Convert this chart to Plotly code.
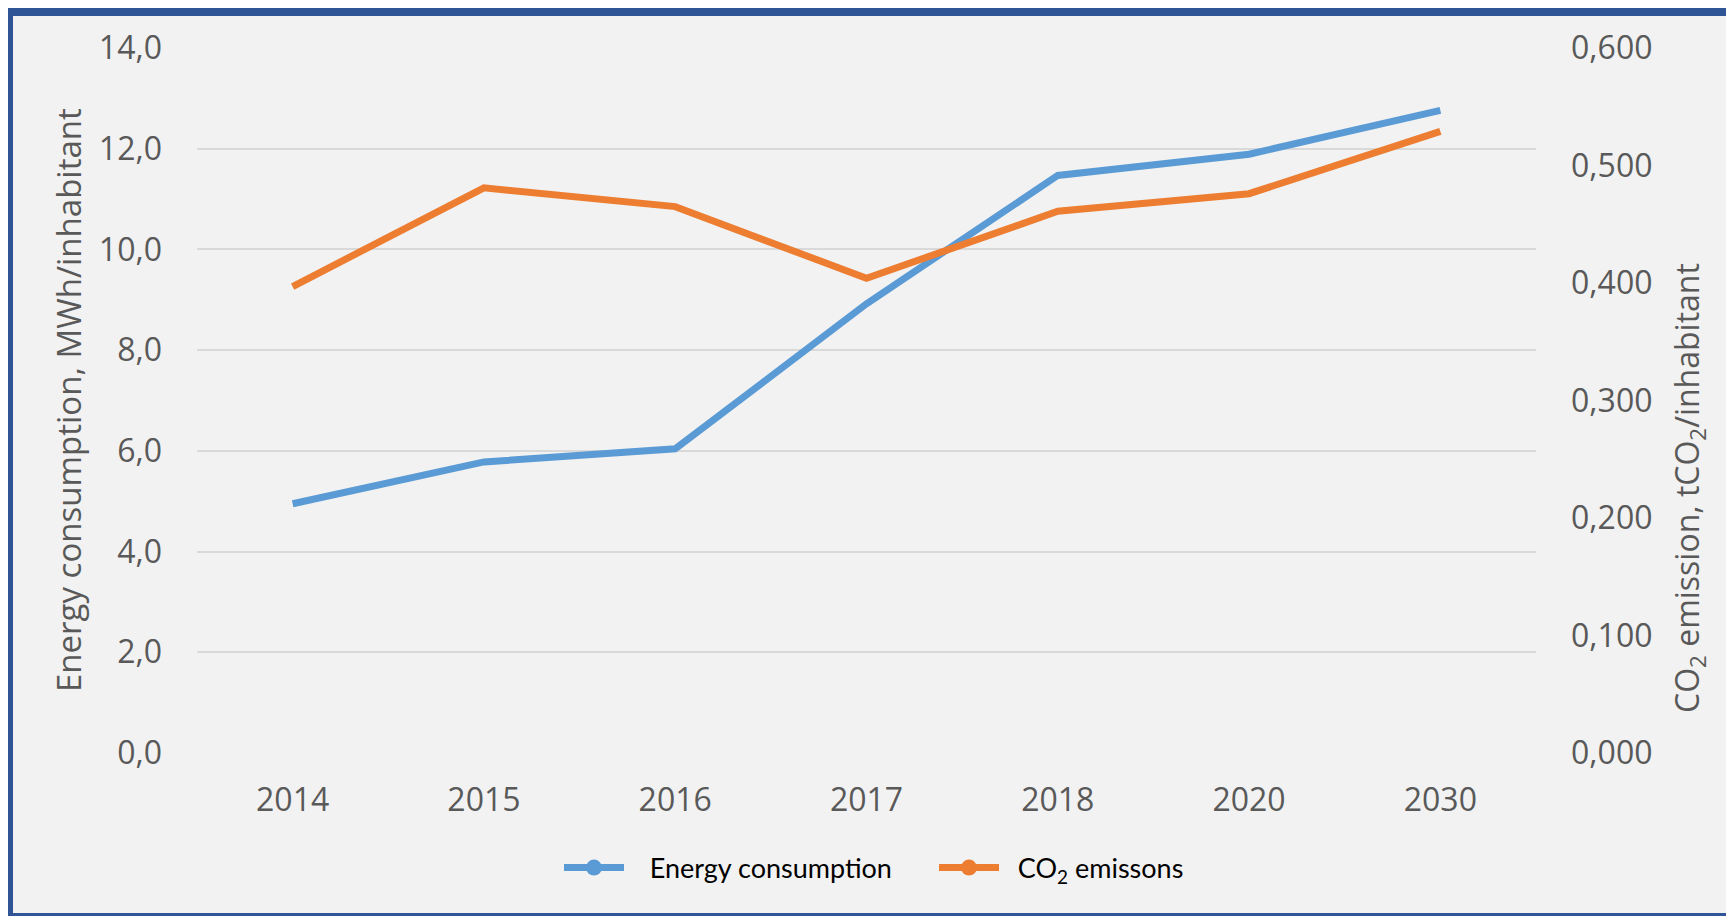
import plotly.graph_objects as go

years = ["2014", "2015", "2016", "2017", "2018", "2020", "2030"]
energy = [4.95, 5.78, 6.04, 8.92, 11.47, 11.89, 12.76]
co2 = [0.397, 0.481, 0.465, 0.404, 0.461, 0.476, 0.529]

left_ticks = [0, 2, 4, 6, 8, 10, 12, 14]
right_ticks = [0, 0.1, 0.2, 0.3, 0.4, 0.5, 0.6]

BLUE = "#5B9BD5"
ORANGE = "#ED7D31"
TXT = "#595959"
OFF = 8  # page body margin
W, H = 1734 - OFF, 916 - OFF
L, R, T, B = 197 - OFF, 198, 48 - OFF, 163
PW, PH = W - L - R, H - T - B


def px(x):
    # page x -> paper fraction
    return (x - OFF - L) / PW


def py(y):
    # page y -> paper fraction
    return (H - B - (y - OFF)) / PH


fig = go.Figure()
fig.add_trace(go.Scatter(
    x=years, y=energy, name="Energy consumption", mode="lines",
    line=dict(color=BLUE, width=7), yaxis="y", showlegend=False))
fig.add_trace(go.Scatter(
    x=years, y=co2, name="CO<sub>2</sub> emissons", mode="lines",
    line=dict(color=ORANGE, width=7), yaxis="y2", showlegend=False))
# legend entries
fig.add_trace(go.Scatter(
    x=[None], y=[None], name="\u00a0\u00a0\u00a0Energy consumption", mode="lines+markers",
    line=dict(color=BLUE, width=7), marker=dict(size=16, color=BLUE)))
fig.add_trace(go.Scatter(
    x=[None], y=[None], name="\u00a0\u00a0CO<sub>2</sub> emissons", mode="lines+markers",
    line=dict(color=ORANGE, width=7), marker=dict(size=16, color=ORANGE)))

fig.update_layout(
    width=W, height=H,
    margin=dict(l=L, r=R, t=T, b=B, pad=0),
    paper_bgcolor="white",
    plot_bgcolor="#F2F2F2",
    separators=",.",
    font=dict(family="Open Sans", color=TXT, size=32),
    showlegend=True,
    legend=dict(orientation="h", x=px(559), y=py(868), xanchor="left", yanchor="middle",
                font=dict(family="Lato", size=27, color="#000000"),
                bgcolor="rgba(0,0,0,0)", itemwidth=60,
                entrywidth=300, entrywidthmode="pixels", tracegroupgap=0),
    xaxis=dict(type="category", categoryorder="array", categoryarray=years,
               range=[-0.5, len(years) - 0.5],
               showgrid=False, zeroline=False, showline=False,
               tickfont=dict(size=32, color=TXT), ticks="", ticklabelstandoff=25),
    yaxis=dict(range=[0, 14], tickvals=left_ticks, tickformat=".1f",
               showgrid=True, gridcolor="#D9D9D9", gridwidth=1.5,
               zeroline=False, showline=False, ticks="",
               tickfont=dict(size=32, color=TXT), ticklabelstandoff=34),
    yaxis2=dict(range=[0, 0.6], tickvals=right_ticks, tickformat=".3f",
                overlaying="y", side="right", showgrid=False, zeroline=False,
                showline=False, ticks="",
                tickfont=dict(size=32, color=TXT), ticklabelstandoff=34),
    shapes=[dict(type="rect", xref="paper", yref="paper", layer="below",
                 x0=px(9), x1=px(1760), y0=py(12), y1=py(917),
                 line=dict(color="#2F5597", width=8), fillcolor="#F2F2F2")],
    annotations=[
        dict(text="Energy consumption, MWh/inhabitant", xref="paper", yref="paper",
             x=px(68), y=py(400), textangle=-90, showarrow=False,
             font=dict(size=33, color=TXT), xanchor="center", yanchor="middle"),
        dict(text="CO<sub>2</sub> emission, tCO<sub>2</sub>/inhabitant", xref="paper", yref="paper",
             x=px(1689), y=py(488), textangle=-90, showarrow=False,
             font=dict(size=32, color=TXT), xanchor="center", yanchor="middle"),
    ],
)

fig.write_html("out.html")
